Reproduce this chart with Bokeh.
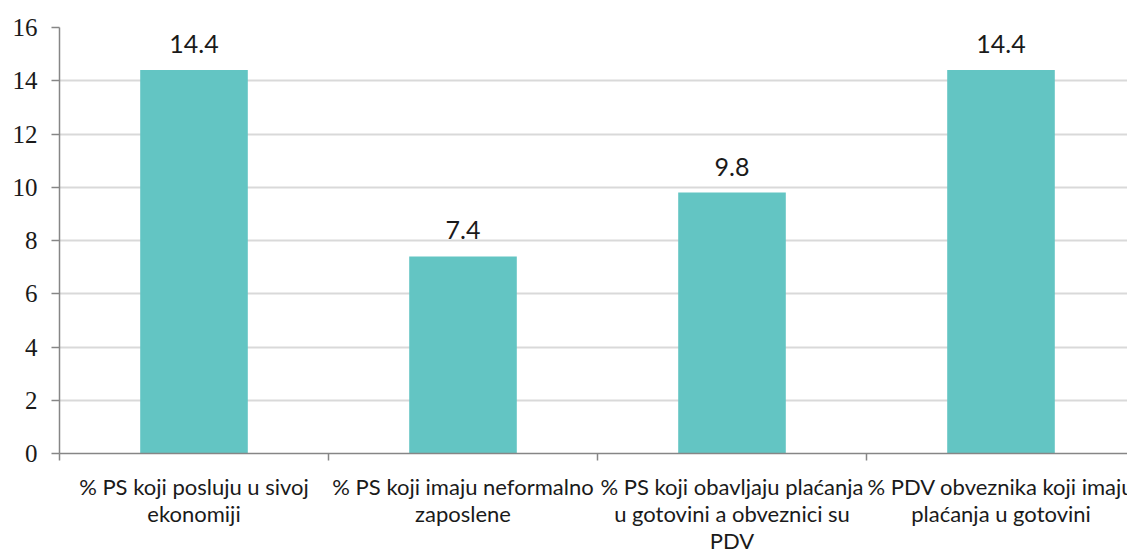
from bokeh.plotting import figure
from bokeh.models import ColumnDataSource, FixedTicker, LabelSet, Range1d
from bokeh.core.properties import value
from bokeh.layouts import column
from bokeh.embed import file_html
from bokeh.resources import INLINE

categories = [
    "% PS koji posluju u sivoj\nekonomiji",
    "% PS koji imaju neformalno\nzaposlene",
    "% PS koji obavljaju plaćanja\nu gotovini a obveznici su\nPDV",
    "% PDV obveznika koji imaju\nplaćanja u gotovini",
]
values = [14.4, 7.4, 9.8, 14.4]
value_labels = ["14.4", "7.4", "9.8", "14.4"]
y_ticks = [0, 2, 4, 6, 8, 10, 12, 14, 16]

xs = [i + 0.5 for i in range(len(categories))]
src = ColumnDataSource(dict(x=xs, top=values, lab=value_labels))

xr = Range1d(0, 1068 / 269)

p = figure(width=1127, height=473, output_backend="svg", toolbar_location=None,
           x_range=xr, y_range=Range1d(0, 16),
           min_border_left=59, min_border_right=0, min_border_top=27, min_border_bottom=20)
p.outline_line_color = None
p.background_fill_color = "white"
p.border_fill_color = "white"

p.vbar(x="x", top="top", width=0.4, bottom=0, source=src, color="#63C5C3", line_color=None)

labels = LabelSet(x="x", y="top", text="lab", source=src, text_align="center",
                  text_baseline="middle", y_offset=26, text_font=value("Lato"),
                  text_font_size=value("25px"), text_color="#1a1a1a")
p.add_layout(labels)

# y axis
p.yaxis.ticker = FixedTicker(ticks=y_ticks)
p.yaxis.minor_tick_line_color = None
p.yaxis.major_tick_in = 0
p.yaxis.major_tick_out = 8
p.yaxis.major_label_standoff = 14
p.yaxis.major_label_text_font = "Liberation Serif"
p.yaxis.major_label_text_font_size = "25px"
p.yaxis.major_label_text_color = "#1a1a1a"
p.yaxis.axis_line_color = "#868686"
p.yaxis.axis_line_width = 1.5
p.yaxis.major_tick_line_color = "#868686"
p.yaxis.major_tick_line_width = 1.5

# x axis: tick marks at category boundaries only
p.xaxis.ticker = FixedTicker(ticks=xs, minor_ticks=[0, 1, 2, 3, 4])
p.xaxis.major_label_overrides = {x: "" for x in xs}
p.xaxis.major_label_text_font_size = "0px"
p.xaxis.major_label_standoff = 0
p.xaxis.major_tick_in = 0
p.xaxis.major_tick_out = 0
p.xaxis.minor_tick_in = 0
p.xaxis.minor_tick_out = 7
p.xaxis.minor_tick_line_color = "#868686"
p.xaxis.minor_tick_line_width = 1.5
p.xaxis.axis_line_color = "#868686"
p.xaxis.axis_line_width = 1.5

p.xgrid.grid_line_color = None
p.ygrid.ticker = FixedTicker(ticks=y_ticks)
p.ygrid.grid_line_color = "#D9D9D9"
p.ygrid.grid_line_width = 2

# category labels panel (below the axis)
lx, ly, lt = [], [], []
for x, c in zip(xs, categories):
    for j, line in enumerate(c.split("\n")):
        lx.append(x)
        ly.append(-(13 + 27 * j))
        lt.append(line)
cat_src = ColumnDataSource(dict(x=lx, y=ly, text=lt))

p2 = figure(width=1127, height=79, output_backend="svg", toolbar_location=None,
            x_range=xr, y_range=Range1d(-79, 0), x_axis_type=None, y_axis_type=None,
            min_border_left=59, min_border_right=0, min_border_top=0, min_border_bottom=0)
p2.outline_line_color = None
p2.grid.visible = False
p2.background_fill_color = "white"
p2.border_fill_color = "white"
p2.text(x="x", y="y", text="text", source=cat_src, text_align="center",
        text_baseline="middle", text_font=value("Lato"), text_font_size=value("22px"),
        text_color="#1a1a1a")

layout = column(p, p2, spacing=0)
open("out.html", "w").write(file_html(layout, INLINE))
